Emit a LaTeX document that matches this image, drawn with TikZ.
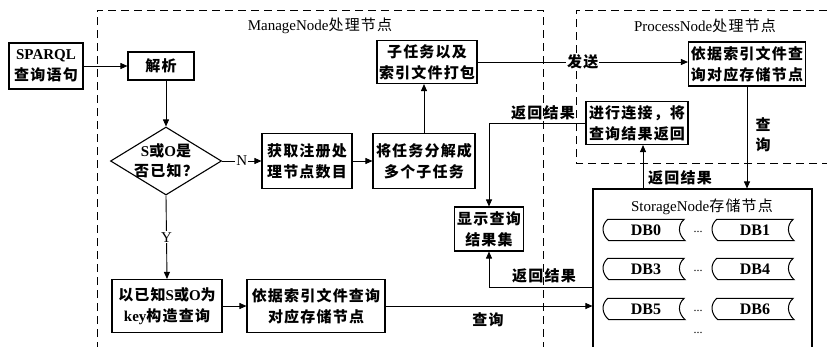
\documentclass[tikz,border=0pt]{standalone}
\usepackage{fontspec}
\setmainfont{Liberation Serif}
\newfontfamily\cjk{Noto Sans CJK SC}[Scale=1.0,LetterSpace=8]
\newcommand\zh[1]{{\cjk #1}}
\usetikzlibrary{arrows.meta,shapes.geometric}
\newcommand\dbshape[3]{%
  \node[dbtext] (#1) at (#2) {#3};
  \draw[line width=1pt] (#1.north west) -- (#1.north east)
    .. controls +(-7,6) and +(-7,-6) .. ([xshift=1pt]#1.south east)
    -- ([xshift=1pt]#1.south west)
    .. controls +(-7,-6) and +(-7,6) .. (#1.north west) -- cycle;
}
\begin{document}
\begin{tikzpicture}[x=1pt,y=-1pt,
  font=\fontsize{15}{20}\selectfont,
  box/.style={draw,line width=1.1pt,align=center,inner sep=1pt,font=\fontsize{15}{21}\selectfont\bfseries},
  arr/.style={line width=0.9pt,-{Triangle[length=7pt,width=6pt]}},
  frame/.style={line width=1pt,dash pattern=on 8pt off 5pt},
  lbl/.style={font=\fontsize{15}{20}\selectfont\bfseries,inner sep=1pt},
  dbtext/.style={font=\fontsize{16}{18}\selectfont\bfseries,minimum width=76,minimum height=21,inner sep=0},
  dots/.style={font=\fontsize{12}{14}\selectfont,inner sep=0}
  ]
\clip (0,0) rectangle (827,346);
\fill[white] (0,0) rectangle (827,346);

% frames
\draw[frame] (97,350) -- (97,10) -- (543,10) -- (543,350);
\draw[frame] (830,163) -- (576,163) -- (576,10) -- (830,10);
\node (mtitle) at (320,26) {ManageNode\zh{处理节点}};
\node (ptitle) at (705,26) {ProcessNode\zh{处理节点}};

% nodes
\node[box,minimum width=74,minimum height=46] (sparql) at (46,66) {SPARQL\\\zh{查询语句}};
\node[box,minimum width=66,minimum height=28] (jiexi) at (161,66) {\zh{解析}};
\node[diamond,draw,line width=1.1pt,aspect=1.63,minimum width=111,minimum height=68,inner sep=0] (dia) at (166,161) {};
\node[align=center,font=\fontsize{15}{20}\selectfont\bfseries,inner sep=0] (diatext) at (dia) {S\zh{或}O\zh{是}\\\zh{否已知？}};
\node[box,minimum width=90,minimum height=55] (huoqu) at (307,161) {\zh{获取注册处}\\\zh{理节点数目}};
\node[box,minimum width=102,minimum height=55] (jiang) at (424,161) {\zh{将任务分解成}\\\zh{多个子任务}};
\node[box,minimum width=100,minimum height=43] (zirw) at (427,62) {\zh{子任务以及}\\\zh{索引文件打包}};
\node[box,minimum width=117,minimum height=44] (pnq) at (747,64) {\zh{依据索引文件查}\\\zh{询对应存储节点}};
\node[box,minimum width=102,minimum height=43] (lianjie) at (637,123) {\zh{进行连接，将}\\\zh{查询结果返回}};
\node[box,minimum width=69,minimum height=44] (xianshi) at (489,229) {\zh{显示查询}\\\zh{结果集}};
\node[box,minimum width=110,minimum height=53] (yizhi) at (167,306) {\zh{以已知}S\zh{或}O\zh{为}\\key\zh{构造查询}};
\node[box,minimum width=138,minimum height=53] (msq) at (316,306) {\zh{依据索引文件查询}\\\zh{对应存储节点}};
\node[box,minimum width=219,minimum height=161] (st) at (702.5,269.5) {};
\node (stitle) at (702,207) {StorageNode\zh{存储节点}};

% databases
\dbshape{db0}{646,230}{DB0}
\dbshape{db1}{755,230}{DB1}
\dbshape{db3}{646,269}{DB3}
\dbshape{db4}{755,269}{DB4}
\dbshape{db5}{646,309}{DB5}
\dbshape{db6}{755,309}{DB6}
\node[dots] (d1) at (698,232) {...};
\node[dots] (d2) at (698,271) {...};
\node[dots] (d3) at (698,311) {...};
\node[dots] (d4) at (698,333) {...};

% helper coordinates
\coordinate (c643) at (643,0);
\coordinate (p287) at (0,287);

% connectors
\draw[arr] (sparql.east) -- (jiexi.west);
\draw[arr] (dia.north |- jiexi.south) -- (dia.north);
\draw[arr] (dia.east) -- node[fill=white,inner sep=1pt] (nlab) {N} (huoqu.west);
\draw[arr] (huoqu.east) -- (jiang.west);
\draw[arr] (jiang.north) -- (jiang.north |- zirw.south);
\draw[arr] (zirw.east) -- node[lbl,fill=white] (fasong) {\zh{发送}} (zirw.east -| pnq.west);
\draw[arr] (pnq.south) -- (pnq.south |- st.north);
\node[lbl,align=center,font=\fontsize{15}{20}\selectfont\bfseries] (chaxun1) at (763,135) {\zh{查}\\\zh{询}};
\draw[arr] (c643 |- st.north) -- (c643 |- lianjie.south);
\node[lbl,anchor=west] (fh1) at (647,178) {\zh{返回结果}};
\draw[arr] (lianjie.west) -| (xianshi.north);
\node[lbl] (fh2) at (543,113) {\zh{返回结果}};
\draw[arr] (st.west |- p287) -| (xianshi.south);
\node[lbl] (fh3) at (544,276) {\zh{返回结果}};
\draw[arr] (msq.east) -- (msq.east -| st.west);
\node[lbl] (chaxun2) at (488,320) {\zh{查询}};
\draw[arr] (yizhi.east) -- (msq.west);
\draw[arr] (dia.south) -- node[fill=white,inner sep=1pt] (ylab) {Y} (yizhi.north);
\end{tikzpicture}
\end{document}
